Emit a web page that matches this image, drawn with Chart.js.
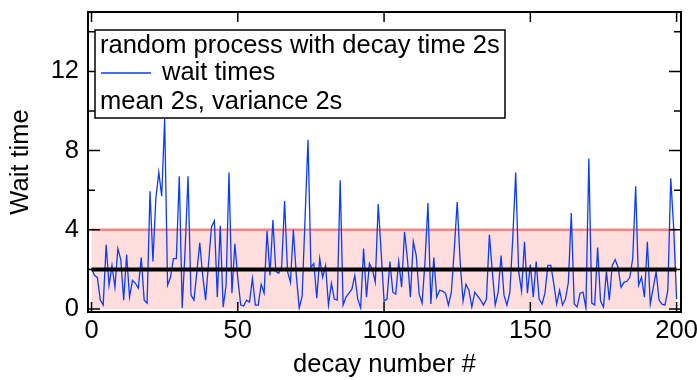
<!DOCTYPE html>
<html><head><meta charset="utf-8">
<script src="https://cdn.jsdelivr.net/npm/chart.js@4.4.0/dist/chart.umd.min.js"></script>
<style>html,body{margin:0;padding:0;background:#fff}#wrap{width:697px;height:380px}</style>
</head><body><div id="wrap"><canvas id="c" width="697" height="380"></canvas></div>
<script>
const waitTimes = [
 2.05,1.7,1.6,0.45,0.2,3.25,1.2,2.2,1.1,3.05,
 2.5,0.45,2.75,0.6,1.45,1.3,1.05,2.6,0.45,0.3,
 5.95,2.4,5.6,6.9,5.7,9.6,1.2,1.6,2.55,2.55,
 6.7,0.05,3.0,6.7,0.7,0.45,1.85,3.35,1.7,0.45,
 2.3,4.15,4.45,0.6,4.2,0.1,1.2,6.9,0.8,3.3,
 1.55,0.2,0.15,0.45,0.35,1.55,0.2,0.2,1.25,0.8,
 3.95,1.7,4.5,1.9,1.8,2.15,5.45,1.9,1.35,4.0,
 1.7,0.05,0.65,4.6,8.55,2.1,2.3,0.55,2.55,1.6,
 2.2,0.2,1.3,0.5,0.45,6.5,0.2,0.6,0.8,1.0,
 1.7,0.5,0.05,3.05,0.6,2.3,2.0,1.35,5.3,2.9,
 0.4,0.5,2.4,0.85,0.75,2.4,1.1,3.9,2.5,0.6,
 3.4,2.7,0.75,0.3,2.4,5.35,0.25,2.6,0.6,0.95,
 0.9,0.8,0.2,0.85,3.0,5.4,2.4,0.4,1.25,0.95,
 0.1,0.85,0.65,0.45,0.2,0.5,3.75,1.9,0.2,0.85,
 2.7,0.7,0.2,0.85,3.6,6.9,1.9,0.9,3.4,0.8,
 2.25,0.6,2.4,0.5,0.25,0.8,2.2,2.2,1.3,0.25,
 0.95,0.2,0.5,1.35,4.85,0.25,0.1,0.8,0.85,0.05,
 7.6,0.3,0.2,3.1,0.4,0.1,1.9,0.45,2.2,2.5,
 2.1,1.1,1.35,1.4,1.6,2.55,6.2,1.2,1.6,0.6,
 3.4,0.25,1.05,1.9,0.45,0.25,0.2,0.95,6.6,4.1,
 0.5
];
const decayNumbers = waitTimes.map((_, i) => i);
const meanValue = 2;
const bandLow = 0;
const bandHigh = 4;
const xTicks = [0, 50, 100, 150, 200];
const yTicks = [0, 4, 8, 12];
const yMinorTicks = [2, 6, 10, 14];
const legendTitle = "random process with decay time 2s";
const seriesLabel = "wait times";
const legendNote = "mean 2s, variance 2s";
const xTitle = "decay number #";
const yTitle = "Wait time";

const FONT = "'Liberation Sans', Arial, sans-serif";
const FS = 25.5;
const firstX = decayNumbers[0], lastX = decayNumbers[decayNumbers.length - 1];

const framePlugin = {
  id: 'frame',
  afterDraw(chart) {
    const { ctx, chartArea: ca, scales: { x, y } } = chart;
    ctx.save();
    ctx.strokeStyle = '#000';
    ctx.lineWidth = 1.5;
    ctx.beginPath();
    xTicks.forEach(v => {
      const px = x.getPixelForValue(v);
      ctx.moveTo(px, ca.bottom); ctx.lineTo(px, ca.bottom - 10);
      ctx.moveTo(px, ca.top); ctx.lineTo(px, ca.top + 10);
    });
    yTicks.forEach(v => {
      const py = y.getPixelForValue(v);
      ctx.moveTo(ca.left, py); ctx.lineTo(ca.left + 12, py);
      ctx.moveTo(ca.right, py); ctx.lineTo(ca.right - 12, py);
    });
    yMinorTicks.forEach(v => {
      const py = y.getPixelForValue(v);
      ctx.moveTo(ca.left, py); ctx.lineTo(ca.left + 7, py);
      ctx.moveTo(ca.right, py); ctx.lineTo(ca.right - 7, py);
    });
    ctx.stroke();
    ctx.lineWidth = 2;
    ctx.strokeRect(ca.left, ca.top, ca.right - ca.left, ca.bottom - ca.top);

    // legend box
    const lx = ca.left + 7, ly = ca.top + 18, lw = 410, lh = 88;
    ctx.fillStyle = '#fff';
    ctx.fillRect(lx, ly, lw, lh);
    ctx.lineWidth = 1.5;
    ctx.strokeRect(lx, ly, lw, lh);
    ctx.fillStyle = '#000';
    ctx.font = FS + 'px ' + FONT;
    ctx.textBaseline = 'middle';
    ctx.textAlign = 'left';
    ctx.fillText(legendTitle, lx + 5, ly + 16);
    ctx.fillText(seriesLabel, lx + 67, ly + 43);
    ctx.fillText(legendNote, lx + 5, ly + 72);
    ctx.strokeStyle = '#0a3cff';
    ctx.lineWidth = 1.3;
    ctx.beginPath();
    ctx.moveTo(lx + 6, ly + 43); ctx.lineTo(lx + 56, ly + 43);
    ctx.stroke();
    ctx.restore();
  }
};

new Chart(document.getElementById('c'), {
  type: 'line',
  data: {
    datasets: [
      {
        label: 'mean',
        data: [{ x: firstX, y: meanValue }, { x: lastX, y: meanValue }],
        borderColor: '#000', borderWidth: 4, pointRadius: 0, fill: false, order: 0
      },
      {
        label: seriesLabel,
        data: decayNumbers.map((d, i) => ({ x: d, y: waitTimes[i] })),
        borderColor: '#0a3cff', borderWidth: 1.3, pointRadius: 0, fill: false, tension: 0, order: 1
      },
      {
        label: 'band',
        data: [{ x: firstX, y: bandHigh }, { x: lastX, y: bandHigh }],
        borderColor: 'rgb(255,130,130)', borderWidth: 2.5, pointRadius: 0,
        backgroundColor: 'rgb(255,221,221)', fill: { value: bandLow }, order: 2
      }
    ]
  },
  options: {
    responsive: false,
    animation: false,
    devicePixelRatio: 1,
    layout: { padding: { top: 12, right: 16, left: 0, bottom: 0 } },
    plugins: { legend: { display: false }, tooltip: { enabled: false } },
    scales: {
      x: {
        type: 'linear', min: -1.2, max: 201.5,
        afterBuildTicks: s => { s.ticks = xTicks.map(v => ({ value: v })); },
        afterFit: s => { s.height = 68; s.paddingLeft = 0; s.paddingRight = 0; },
        grid: { display: false, drawTicks: false },
        border: { display: false },
        ticks: { color: '#000', font: { family: FONT, size: FS }, padding: 4, maxRotation: 0, autoSkip: false },
        title: { display: true, text: xTitle, color: '#000', font: { family: FONT, size: FS }, padding: { top: 0, bottom: 0 } }
      },
      y: {
        type: 'linear', min: -0.15, max: 15,
        afterBuildTicks: s => { s.ticks = yTicks.map(v => ({ value: v })); },
        afterFit: s => { s.width = 88; s.paddingTop = 0; s.paddingBottom = 0; },
        grid: { display: false, drawTicks: false },
        border: { display: false },
        ticks: { color: '#000', font: { family: FONT, size: FS }, padding: 9, autoSkip: false },
        title: { display: true, text: yTitle, color: '#000', font: { family: FONT, size: FS }, padding: { top: 6, bottom: 0 } }
      }
    }
  },
  plugins: [framePlugin]
});
</script></body></html>
